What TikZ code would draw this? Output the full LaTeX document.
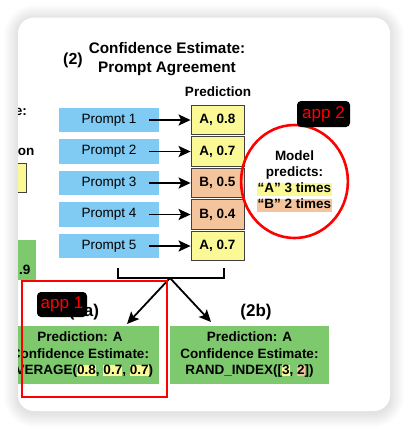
\documentclass[tikz,border=0pt]{standalone}
\usepackage{fontspec}
\setmainfont{Liberation Sans}
\usetikzlibrary{arrows.meta,shapes.geometric}
\definecolor{pblue}{RGB}{128,203,243}
\definecolor{pyel}{RGB}{250,249,150}
\definecolor{ppeach}{RGB}{244,196,156}
\definecolor{pgreen}{RGB}{126,201,110}
\newcommand\hlline[2]{{\fboxsep=0pt\colorbox{#1}{\rule[-3.5pt]{0pt}{12.5pt}\hspace{1pt}#2\hspace{1pt}}}}
\newcommand\hlword[2]{{\fboxsep=0pt\colorbox{#1}{\rule[-1.5pt]{0pt}{11.5pt}#2}}}
\begin{document}
\begin{tikzpicture}[x=1pt,y=-1pt,
 prompt/.style={fill=pblue,minimum width=100pt,minimum height=24.5pt,inner sep=0pt,font=\fontsize{13.5}{16}\selectfont},
 pred/.style={draw=black!75,line width=0.8pt,minimum width=53pt,minimum height=29.5pt,inner sep=0pt,font=\bfseries\fontsize{13.5}{16}\selectfont},
 result/.style={fill=pgreen,minimum width=159pt,minimum height=58pt,inner sep=0pt,align=center,font=\bfseries\fontsize{13.5}{16.5}\selectfont},
 applabel/.style={fill=black,text=red,rounded corners=4pt,inner sep=0pt,font=\fontsize{17}{17}\selectfont},
 arr/.style={-{Stealth[length=12pt,width=11pt,inset=2.5pt]},line width=1.8pt},
 bold/.style={font=\bfseries\fontsize{13.5}{16}\selectfont}]
\useasboundingbox (0,0) rectangle (408,429);
\foreach \s in {1,...,14}
 \fill[black,opacity=0.009,rounded corners={(16+\s)*1pt}] (18-\s,19-\s) rectangle (390+\s,413+\s);
\begin{scope}
\clip[rounded corners=16pt] (18,17.5) rectangle (390,411);
\fill[white] (0,0) rectangle (408,429);

\node[bold,anchor=east,inner sep=0pt] (lhead) at (27,112) {e:};
\node[bold,anchor=east,inner sep=0pt] (lpred) at (34.5,152) {on};
\node[pred,fill=pyel,anchor=east] (lans) at (27,178) {};
\node[result,minimum width=60pt,minimum height=40pt,anchor=east] (lres) at (36,259.5) {};
\node[bold,anchor=east,inner sep=0pt] (lconf) at (30.5,270) {.9};

\node[font=\bfseries\fontsize{16}{19}\selectfont] (num) at (73,60) {(2)};
\node[align=center,font=\bfseries\fontsize{15.3}{19}\selectfont] (title) at (167,59.5) {Confidence Estimate:\\Prompt Agreement};
\node[bold] (head) at (218,92) {Prediction};

\foreach \i/\v/\c in {1/{A, 0.8}/pyel,2/{A, 0.7}/pyel,3/{B, 0.5}/ppeach,4/{B, 0.4}/ppeach,5/{A, 0.7}/pyel}
{
 \node[prompt] (p\i) at (109,{120+31.5*(\i-1)}) {Prompt \i};
 \node[pred,fill=\c] (a\i) at (217.5,{120+31.5*(\i-1)}) {\v};
 \draw[arr] ([xshift=-10pt]p\i.east)--(a\i);
}

\node[ellipse,draw=red,line width=2.6pt,minimum width=105pt,minimum height=113pt,inner sep=0pt,align=center,font=\bfseries\fontsize{13.5}{16}\selectfont] (vote) at (294.5,181.5) {Model\\predicts:\\\hlline{pyel}{“A” 3 times}\\\hlline{ppeach}{“B” 2 times}};
\node[applabel,minimum width=53pt,minimum height=26pt] (app2) at (323.5,114) {app 2};

\coordinate (bl) at (118,268);
\coordinate (br) at (224,268);
\coordinate (bm) at (170,278);
\draw[line width=1.8pt] (bl)|-(bm)-|(br);

\node[result,minimum width=158pt] (resA) at (80,355) {Prediction: A\\Confidence Estimate:\\AVERAGE(\hlword{pyel}{0.8}, \hlword{pyel}{0.7}, \hlword{pyel}{0.7})};
\node[result] (resB) at (249.5,355) {Prediction: A\\Confidence Estimate:\\RAND\_INDEX([\hlword{pyel}{3}, \hlword{ppeach}{2}])};
\node[font=\bfseries\fontsize{17}{17}\selectfont] (labA) at (84,312) {(2a)};
\node[font=\bfseries\fontsize{17}{17}\selectfont] (labB) at (256,312) {(2b)};

\coordinate (tipA) at (127,324);
\coordinate (tipB) at (211,322);
\draw[arr] (bm)--(tipA);
\draw[arr] (bm)--(tipB);

\node[draw=red,line width=2.5pt,minimum width=145pt,minimum height=116pt,inner sep=0pt] (app1box) at (94.5,339) {};
\node[applabel,minimum width=50pt,minimum height=25pt] (app1) at (62,304.5) {app 1};
\end{scope}
\end{tikzpicture}
\end{document}
